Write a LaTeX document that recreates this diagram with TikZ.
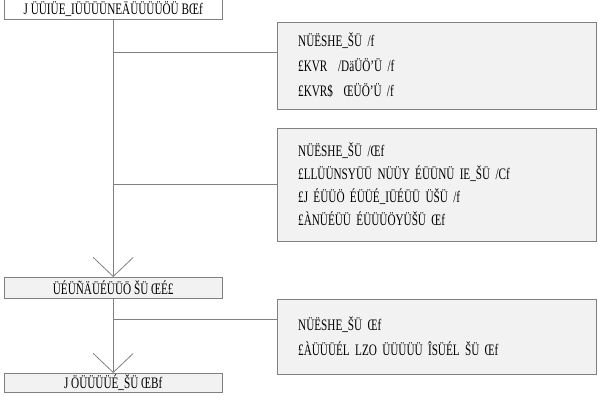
\documentclass[tikz,border=0pt]{standalone}
\usepackage{fontspec}
\setmainfont{Liberation Serif}[FakeStretch=0.7]
\usetikzlibrary{positioning,arrows.meta}
\definecolor{boxgray}{HTML}{F2F2F2}
\definecolor{linegray}{HTML}{808080}

\begin{document}
\begin{tikzpicture}[x=1pt,y=-1pt,
  every node/.style={font=\fontsize{16}{25}\selectfont},
  mainbox/.style={draw=linegray,fill=boxgray,minimum width=218pt,minimum height=20pt,inner sep=0pt,anchor=north west},
  sidebox/.style={draw=linegray,fill=boxgray,minimum width=319pt,anchor=north west,align=left,text width=277pt,inner xsep=21pt},
  link/.style={draw=linegray,line width=0.8pt},
  arrow/.style={link,-{Straight Barb[length=19pt,width=40pt,line width=0.8pt]}}
]
  \useasboundingbox (0,0) rectangle (598,401);
  % main column
  \node[mainbox,fill=white] (ident) at (4,-1) {J ÜÜIÜE\_IÜÜÜÜNEÄÜÜÜÜÖÜ BŒf};
  \node[mainbox,minimum height=21pt] (screen) at (4,277) {ÜÉÜÑÄÜÉÜÜÖ ŠÜ ŒÉ£};
  \node[mainbox,minimum height=19pt] (incl) at (4,373) {J ÖÜÜÜÜÉ\_ŠÜ ŒBf};
  % side boxes
  \node[sidebox,minimum height=87pt] (excla) at (277,22)
    {NÜËSHE\_ŠÜ /f\\£KVR \ /DäÜÖ'Ü /f\\£KVR\$ \ ŒÜÖ'Ü /f};
  \node[sidebox,minimum height=113pt,font=\fontsize{16}{23}\selectfont] (exclb) at (277,128)
    {NÜËSHE\_ŠÜ /Œf\\£LLÜÜNSYÜÜ NÜÜY ÉÜÜNÜ IE\_ŠÜ /Cf\\£J ÉÜÜÖ ÉÜÜÉ\_IÜÉÜÜ ÜŠÜ /f\\£ÀNÜÉÜÜ ÉÜÜÜÖYÜŠÜ Œf};
  \node[sidebox,minimum height=75pt] (exclc) at (277,299)
    {NÜËSHE\_ŠÜ Œf\\£ÀÜÜÜÉL LZO ÜÜÜÜÜ ÎSÜÉL ŠÜ Œf};
  % connectors
  \draw[arrow] (ident.south) -- (screen.north);
  \draw[arrow] (screen.south) -- (incl.north);
  \draw[link] ([yshift=-30pt]excla.north west) -| (ident.south);
  \draw[link] (exclb.west) -| (ident.south);
  \draw[link] ([yshift=-20pt]exclc.north west) -| (screen.south);
\end{tikzpicture}
\end{document}
